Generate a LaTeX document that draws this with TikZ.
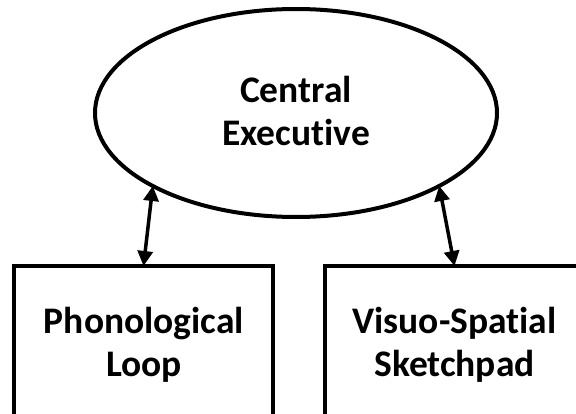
\documentclass[tikz,border=0pt]{standalone}
\usepackage{fontspec}
\setmainfont[Ligatures={NoCommon,NoRare,NoDiscretionary}]{Carlito}
\usetikzlibrary{shapes.geometric,arrows.meta}
\tikzset{
  lbl/.style={font=\bfseries\fontsize{37.5}{43}\selectfont, align=center},
  ovalnode/.style={ellipse, draw, line width=4pt, minimum width=402pt, minimum height=208pt, inner sep=0pt, outer sep=0pt},
  boxnode/.style={rectangle, draw, line width=4pt, minimum width=259pt, minimum height=149.5pt, inner sep=0pt, outer sep=0pt},
  link/.style={line width=3.5pt, {Triangle[length=15pt,width=15pt]}-{Triangle[length=15pt,width=15pt]}}
}
\begin{document}
\begin{tikzpicture}[x=1pt,y=1pt]
\useasboundingbox (0,0) rectangle (576,-414);
\clip (0,0) rectangle (576,-414);
\fill[white] (0,0) rectangle (576,-414);
\node[ovalnode] (ce) at (296,-113) {};
\node[lbl] at (296,-111) {Central\\Executive};
\node[boxnode] (pl) at (143.5,-340.75) {};
\node[lbl] at (144,-345) {Phonological\\Loop};
\node[boxnode] (vs) at (454.5,-340.75) {};
\node[lbl] at (454.5,-345) {Visuo-Spatial\\Sketchpad};
\draw[link] (pl.north) -- (ce.207);
\draw[link] (vs.north) -- (ce.333);
\end{tikzpicture}
\end{document}
